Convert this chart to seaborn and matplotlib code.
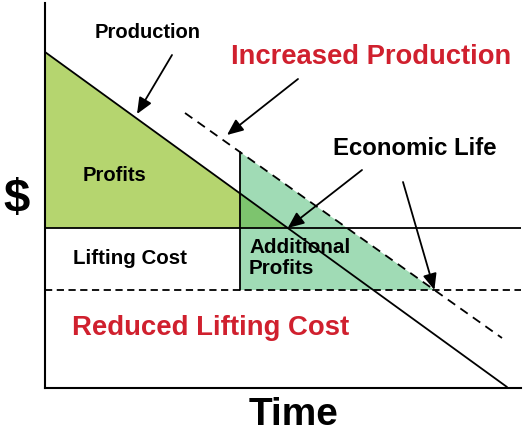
import matplotlib
matplotlib.use("Agg")
import matplotlib.pyplot as plt
import seaborn as sns
import numpy as np
from matplotlib.patches import Polygon

# ---- data (conceptual units: x = time, y = $) ----
production_time = [0, 462]
production_value = [336, 1]
increased_time = [140, 457]
increased_value = [275, 50]
lifting_cost = 160
reduced_lifting_cost = 98
project_start = 195          # time where increased production begins
x_max, y_max = 476, 385

labels = {
    "production": "Production",
    "increased": "Increased Production",
    "economic": "Economic Life",
    "profits": "Profits",
    "lifting": "Lifting Cost",
    "additional": "Additional\nProfits",
    "reduced": "Reduced Lifting Cost",
}

# ---- style ----
sns.set_theme(style="white")
plt.rcParams["font.family"] = ["Liberation Sans", "DejaVu Sans"]
RED = "#d0202e"
C_PROF = "#b5d56f"
C_ADD = "#a0dbb5"
C_OVER = "#7dc46e"

W, H = 524, 438
fig = plt.figure(figsize=(W / 100, H / 100), dpi=100)
ax = fig.add_axes([45 / W, 1 - 388 / H, (521 - 45) / W, (388 - 3) / H])
ax.set_xlim(0, x_max)
ax.set_ylim(0, y_max)

# geometry derived from data
p_slope = (production_value[0] - production_value[1]) / (production_time[1] - production_time[0])
i_slope = (increased_value[0] - increased_value[1]) / (increased_time[1] - increased_time[0])
def prod(x):
    return production_value[0] - p_slope * (x - production_time[0])
def incr(x):
    return increased_value[0] - i_slope * (x - increased_time[0])
x_el = production_time[0] + (production_value[0] - lifting_cost) / p_slope
x_el2 = increased_time[0] + (increased_value[0] - reduced_lifting_cost) / i_slope

# fills
ax.add_patch(Polygon([(0, production_value[0]), (x_el, lifting_cost), (0, lifting_cost)],
                     closed=True, facecolor=C_PROF, edgecolor="none", zorder=1))
ax.add_patch(Polygon([(project_start, incr(project_start)), (x_el2, reduced_lifting_cost),
                      (project_start, reduced_lifting_cost)],
                     closed=True, facecolor=C_ADD, edgecolor="none", zorder=1))
ax.add_patch(Polygon([(project_start, prod(project_start)), (x_el, lifting_cost),
                      (project_start, lifting_cost)],
                     closed=True, facecolor=C_OVER, edgecolor="none", zorder=1.5))

lw = 1.3
line_kw = dict(color="black", lw=lw, ax=ax, zorder=3, sort=False, estimator=None)
sns.lineplot(x=production_time, y=production_value, **line_kw)
sns.lineplot(x=increased_time, y=increased_value, **line_kw)
ax.lines[-1].set_linestyle((0, (5, 3.5)))
sns.lineplot(x=[0, x_max], y=[lifting_cost, lifting_cost], **line_kw)
sns.lineplot(x=[0, x_max], y=[reduced_lifting_cost, reduced_lifting_cost], **line_kw)
ax.lines[-1].set_linestyle((0, (4, 2.5)))
sns.lineplot(x=[project_start, project_start], y=[reduced_lifting_cost, incr(project_start)],
             **line_kw)

# axes
for s in ["top", "right"]:
    ax.spines[s].set_visible(False)
for s in ["left", "bottom"]:
    ax.spines[s].set_color("black")
    ax.spines[s].set_linewidth(1.5)
ax.set_xticks([])
ax.set_yticks([])
ax.set_xlabel("")
ax.set_ylabel("")

# texts
bold = dict(fontweight="bold", ha="center", va="center")
ax.text(103, 355, labels["production"], fontsize=14.5, color="black", **bold)
ax.text(326, 331, labels["increased"], fontsize=19.7, color=RED, **bold)
ax.text(370, 239, labels["economic"], fontsize=17.3, color="black", **bold)
ax.text(69, 212, labels["profits"], fontsize=14.5, color="black", **bold)
ax.text(85, 129, labels["lifting"], fontsize=14.8, color="black", **bold)
ax.text(204, 130, labels["additional"], fontsize=14.9, color="black", fontweight="bold",
        ha="left", va="center", linespacing=1.15)
ax.text(166, 60, labels["reduced"], fontsize=19.8, color=RED, **bold)
fig.text(17 / W, 1 - 200 / H, "$", fontsize=34, color="black", **bold)
fig.text(294 / W, 1 - 415 / H, "Time", fontsize=28, color="black", **bold)

# arrows
arrows = [((127, 333), (92, 274)),
          ((253, 309), (182, 253)),
          ((317, 218), (x_el, lifting_cost)),
          ((358, 206), (x_el2, reduced_lifting_cost))]
for tail, head in arrows:
    ax.annotate("", xy=head, xytext=tail,
                arrowprops=dict(arrowstyle="-|>,head_length=0.7,head_width=0.3",
                                color="black", lw=1.3, shrinkA=0, shrinkB=0,
                                mutation_scale=14), zorder=4)

fig.savefig("out.png", dpi=100)
